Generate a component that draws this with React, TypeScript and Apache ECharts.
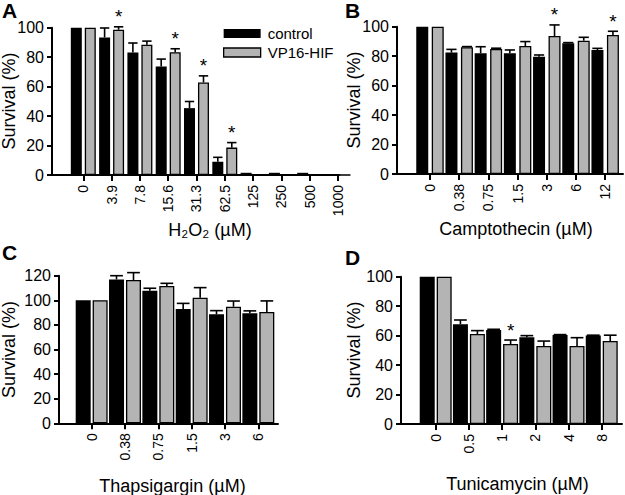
import React, { useEffect, useRef } from 'react';
import * as echarts from 'echarts';

const FONT = "'Liberation Sans', Arial, Helvetica, sans-serif";

// ---------- Panel A : H2O2 ----------
const catsA = ['0', '3.9', '7.8', '15.6', '31.3', '62.5', '125', '250', '500', '1000'];
const ctrlA = [100, 93.4, 83.2, 73.7, 45.4, 9, 1.5, 1.5, 1.5, 0];
const ctrlErrA = [0, 6.4, 6.4, 5, 4.5, 3, 0, 0, 0, 0];
const vpA = [100, 98.6, 88.4, 83.4, 62.8, 18.6, 0, 0, 0, 0];
const vpErrA = [0, 2, 2.5, 2.3, 4.5, 3.4, 0, 0, 0, 0];
const starA = [0, 1, 0, 1, 1, 1, 0, 0, 0, 0];

// ---------- Panel B : Camptothecin ----------
const catsB = ['0', '0.38', '0.75', '1.5', '3', '6', '12'];
const ctrlB = [100, 82.4, 82, 82, 79.6, 88.7, 84.2];
const ctrlErrB = [0, 2.2, 4.4, 2.2, 1.2, 0.5, 1.1];
const vpB = [100, 86, 84.9, 86.9, 93.7, 90.5, 94.4];
const vpErrB = [0, 0.5, 0.5, 3, 7.5, 2.3, 2.5];
const starB = [0, 0, 0, 0, 1, 0, 1];

// ---------- Panel C : Thapsigargin ----------
const catsC = ['0', '0.38', '0.75', '1.5', '3', '6'];
const ctrlC = [100, 117, 107.8, 92.9, 88.6, 89.4];
const ctrlErrC = [0, 3, 2, 4.6, 3, 2];
const vpC = [100, 116.5, 111.6, 102.1, 94.8, 90.5];
const vpErrC = [0, 6, 2.2, 8.2, 4.6, 9];
const starC = [0, 0, 0, 0, 0, 0];

// ---------- Panel D : Tunicamycin ----------
const catsD = ['0', '0.5', '1', '2', '4', '8'];
const ctrlD = [100, 67.7, 63.8, 58.9, 60.4, 60];
const ctrlErrD = [0, 2.9, 0.5, 1.1, 0.3, 0.3];
const vpD = [100, 61.1, 54.3, 53, 53, 56.3];
const vpErrD = [0, 2.3, 2.7, 3.3, 5.6, 4];
const starD = [0, 0, 1, 0, 0, 0];

const seriesNames = ['control', 'VP16-HIF'];
const yTicksStep = 20;
// category slots start at SHIFT on the numeric x axis
const SHIFT = 2;

type Panel = {
  letter: string;
  cats: string[];
  ctrl: number[];
  ctrlErr: number[];
  vp: number[];
  vpErr: number[];
  star: number[];
  xName: string;
  left: number;
  right: number;
  top: number;
  bottom: number;
  xMin: number;
  xMax: number;
  yMax: number;
  barW: number;
  off: number;
  letterPos: [number, number];
  xNamePos: [number, number];
  yNamePos: [number, number];
  legend?: boolean;
};

const panels: Panel[] = [
  {
    letter: 'A', cats: catsA, ctrl: ctrlA, ctrlErr: ctrlErrA, vp: vpA, vpErr: vpErrA, star: starA,
    xName: 'H\u2082O\u2082 (\u00b5M)',
    left: 52, right: 339.4, top: 27.7, bottom: 175, xMin: -1.106, xMax: 9.05, yMax: 100,
    barW: 11, off: 7, letterPos: [2, 10.5], xNamePos: [210, 230], yNamePos: [9, 101], legend: true,
  },
  {
    letter: 'B', cats: catsB, ctrl: ctrlB, ctrlErr: ctrlErrB, vp: vpB, vpErr: vpErrB, star: starB,
    xName: 'Camptothecin (\u00b5M)',
    left: 397, right: 623, top: 26.7, bottom: 174, xMin: -1.13, xMax: 6.61, yMax: 100,
    barW: 12, off: 7.75, letterPos: [345, 10.5], xNamePos: [516, 229], yNamePos: [354, 100],
  },
  {
    letter: 'C', cats: catsC, ctrl: ctrlC, ctrlErr: ctrlErrC, vp: vpC, vpErr: vpErrC, star: starC,
    xName: 'Thapsigargin (\u00b5M)',
    left: 59, right: 278, top: 275.7, bottom: 423.3, xMin: -0.98, xMax: 5.59, yMax: 120,
    barW: 15, off: 8.5, letterPos: [2, 252.5], xNamePos: [172.5, 486], yNamePos: [9, 349.5],
  },
  {
    letter: 'D', cats: catsD, ctrl: ctrlD, ctrlErr: ctrlErrD, vp: vpD, vpErr: vpErrD, star: starD,
    xName: 'Tunicamycin (\u00b5M)',
    left: 401, right: 622, top: 276.7, bottom: 424, xMin: -1.045, xMax: 5.61, yMax: 100,
    barW: 15, off: 8.5, letterPos: [345, 257.5], xNamePos: [517.5, 484], yNamePos: [354, 350],
  },
];

const GREY = '#b4b4b4';

function buildPanelOption(p: Panel) {
  const idx = p.cats.map((_, i) => i + SHIFT);
  const gap = Math.round(((2 * p.off - p.barW) / p.barW) * 100) + '%';
  const off = p.off;
  const cap = p.barW * 0.85;
  const errData: number[][] = [];
  p.cats.forEach((_, i) => {
    errData.push([i + SHIFT, p.ctrl[i], p.ctrlErr[i], -1, 0]);
    errData.push([i + SHIFT, p.vp[i], p.vpErr[i], 1, p.star[i]]);
  });

  const option: any = {
    animation: false,
    textStyle: { fontFamily: FONT, color: '#000' },
    grid: [{
      left: p.left,
      top: p.top,
      width: p.right - p.left,
      height: p.bottom - p.top,
      outerBoundsMode: 'none',
    }],
    xAxis: [{
      type: 'value',
      min: p.xMin + SHIFT,
      max: p.xMax + SHIFT,
      z: 10,
      axisLine: { show: true, onZero: false, lineStyle: { color: '#000', width: 2 } },
      axisTick: { show: true, customValues: idx, length: 6, lineStyle: { color: '#000', width: 2 } },
      axisLabel: {
        show: true,
        customValues: idx,
        formatter: (v: number) => p.cats[Math.round(v) - SHIFT] ?? '',
        rotate: 90,
        fontSize: 14,
        color: '#000',
        margin: 10,
        fontFamily: FONT,
      },
      splitLine: { show: false },
    }],
    yAxis: [{
      type: 'value',
      min: 0,
      max: p.yMax,
      interval: yTicksStep,
      z: 10,
      axisLine: { show: true, onZero: false, lineStyle: { color: '#000', width: 2 } },
      axisTick: { show: true, length: 5, lineStyle: { color: '#000', width: 2 } },
      axisLabel: { fontSize: 16, color: '#000', margin: 8, fontFamily: FONT },
      splitLine: { show: false },
    }],
    series: [
      {
        type: 'bar',
        name: seriesNames[0],
        data: p.ctrl.map((v, i) => [i + SHIFT, v]),
        barWidth: p.barW,
        barGap: gap,
        itemStyle: { color: '#000' },
        z: 2,
      },
      {
        type: 'bar',
        name: seriesNames[1],
        data: p.vp.map((v, i) => [i + SHIFT, v]),
        barWidth: p.barW,
        barGap: gap,
        itemStyle: { color: GREY, borderColor: '#000', borderWidth: 1.3 },
        z: 2,
      },
      {
        type: 'custom',
        name: 'err',
        z: 5,
        clip: false,
        silent: true,
        encode: { x: 0, y: 1 },
        data: errData,
        renderItem: (params: any, api: any) => {
          const x = api.value(0);
          const v = api.value(1);
          const e = api.value(2);
          const side = api.value(3);
          const star = api.value(4);
          const base = api.coord([x, v]);
          const top = api.coord([x, v + e]);
          const cx = base[0] + side * off;
          const children: any[] = [];
          if (e > 0) {
            children.push({
              type: 'line',
              shape: { x1: cx, y1: base[1], x2: cx, y2: top[1] },
              style: { stroke: '#000', lineWidth: 1.6 },
            });
            children.push({
              type: 'line',
              shape: { x1: cx - cap / 2, y1: top[1], x2: cx + cap / 2, y2: top[1] },
              style: { stroke: '#000', lineWidth: 1.6 },
            });
          }
          if (star) {
            children.push({
              type: 'text',
              x: cx,
              y: top[1] - 10,
              style: {
                text: '*',
                fontSize: 19,
                fontFamily: FONT,
                fill: '#000',
                align: 'center',
                verticalAlign: 'middle',
              },
            });
          }
          return { type: 'group', children };
        },
      },
    ],
    graphic: [
      {
        type: 'text',
        x: p.letterPos[0],
        y: p.letterPos[1],
        style: {
          text: p.letter,
          fontSize: 21,
          fontWeight: 'bold',
          fontFamily: FONT,
          fill: '#000',
          align: 'left',
          verticalAlign: 'middle',
        },
      },
      {
        type: 'text',
        x: p.xNamePos[0],
        y: p.xNamePos[1],
        style: {
          text: p.xName,
          fontSize: 18,
          fontFamily: FONT,
          fill: '#000',
          align: 'center',
          verticalAlign: 'middle',
        },
      },
      {
        type: 'text',
        x: p.yNamePos[0],
        y: p.yNamePos[1],
        rotation: Math.PI / 2,
        style: {
          text: 'Survival (%)',
          fontSize: 18,
          fontFamily: FONT,
          fill: '#000',
          align: 'center',
          verticalAlign: 'middle',
        },
      },
    ],
  };
  if (p.legend) {
    option.legend = {
      data: [
        { name: seriesNames[0], itemStyle: { color: '#000' } },
        { name: seriesNames[1], itemStyle: { color: GREY, borderColor: '#000', borderWidth: 1.3 } },
      ],
      orient: 'vertical',
      left: 223,
      top: 21,
      padding: [5, 5, 5, 0],
      itemWidth: 37,
      itemHeight: 9,
      itemGap: 4,
      icon: 'rect',
      selectedMode: false,
      textStyle: { fontSize: 15, fontFamily: FONT, color: '#000', padding: [0, 0, 0, 2] },
    };
  }
  return option;
}

export default function App() {
  const refs = [
    useRef<HTMLDivElement>(null),
    useRef<HTMLDivElement>(null),
    useRef<HTMLDivElement>(null),
    useRef<HTMLDivElement>(null),
  ];
  useEffect(() => {
    document.body.style.margin = '0';
    const charts: echarts.ECharts[] = [];
    panels.forEach((p, k) => {
      const el = refs[k].current;
      if (!el) return;
      const chart = echarts.init(el, undefined, { renderer: 'svg' });
      chart.setOption(buildPanelOption(p));
      charts.push(chart);
    });
    return () => {
      charts.forEach((c) => c.dispose());
    };
  }, []);
  return (
    <div style={{ position: 'relative', width: 625, height: 495, background: '#fff' }}>
      {refs.map((r, k) => (
        <div
          key={k}
          ref={r}
          style={{ position: 'absolute', left: 0, top: 0, width: 625, height: 495 }}
        />
      ))}
    </div>
  );
}
